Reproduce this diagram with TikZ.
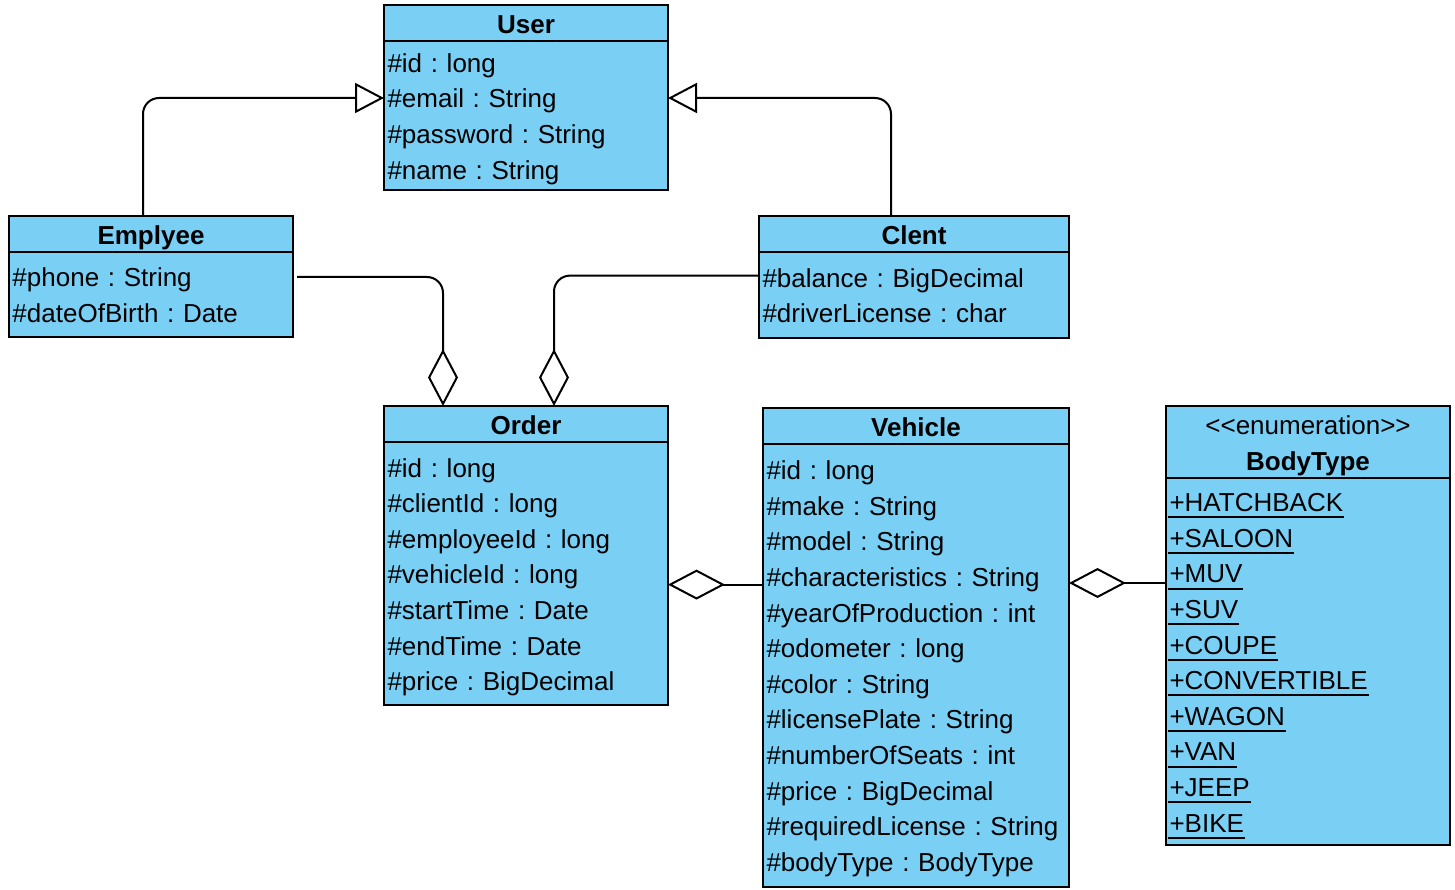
\documentclass[tikz,border=0pt]{standalone}
\usepackage{fontspec}
\setmainfont{Liberation Sans}
\usetikzlibrary{arrows.meta, positioning}

\definecolor{classblue}{RGB}{122,207,245}
\newcommand{\umlfont}{\fontsize{26pt}{35.6pt}\selectfont\frenchspacing}
\newcommand{\rowstrut}{\rule[-7.5pt]{0pt}{35.6pt}}
\newcommand{\enumlit}[1]{\leavevmode\setbox0\hbox{#1}\rlap{\kern-2pt\rule[-6.7pt]{\dimexpr\wd0+3pt\relax}{2pt}}\box0}

\begin{document}
\begin{tikzpicture}[x=1pt,y=-1pt,line width=2pt,
    cls/.style={draw, fill=classblue, outer sep=0pt, inner xsep=3.5pt, inner ysep=0pt,
      text width=#1, execute at begin node=\rowstrut, execute at end node=\rowstrut},
    head/.style={cls=#1, align=center, font=\umlfont\bfseries},
    attrs/.style={cls=#1, align=left, font=\umlfont},
    gen/.style={-{Triangle[open, length=29pt, width=30pt]}, rounded corners=16pt},
    agg/.style={-{Diamond[open, length=57pt, width=30pt]}, rounded corners=16pt}]
  \fill[white] (0,0) rectangle (1455,890);
  \useasboundingbox (0,0) rectangle (1455,890);

  \node[head=277pt, minimum height=36pt, anchor=north west] (user) at (384,5) {User};
  \node[attrs=277pt, minimum height=149pt, below=0pt of user] (userAttr)
    {\#id : long\\\#email : String\\\#password : String\\\#name : String};

  \node[head=277pt, minimum height=36pt, anchor=north west] (emp) at (9,216) {Emplyee};
  \node[attrs=277pt, minimum height=85pt, below=0pt of emp] (empAttr)
    {\#phone : String\\\#dateOfBirth : Date};

  \node[head=303pt, minimum height=35pt, anchor=north west] (clent) at (759,216) {Clent};
  \node[attrs=303pt, minimum height=86pt, below=0pt of clent] (clentAttr)
    {\#balance : BigDecimal\\\#driverLicense : char};

  \node[head=277pt, minimum height=36pt, anchor=north west] (order) at (384,406) {Order};
  \node[attrs=277pt, minimum height=263pt, below=0pt of order] (orderAttr)
    {\#id : long\\\#clientId : long\\\#employeeId : long\\\#vehicleId : long\\
     \#startTime : Date\\\#endTime : Date\\\#price : BigDecimal};

  \node[head=299pt, minimum height=35pt, anchor=north west] (vehicle) at (763,408) {Vehicle};
  \node[attrs=299pt, minimum height=443pt, below=0pt of vehicle] (vehicleAttr)
    {\#id : long\\\#make : String\\\#model : String\\\#characteristics : String\\
     \#yearOfProduction : int\\\#odometer : long\\\#color : String\\\#licensePlate : String\\
     \#numberOfSeats : int\\\#price : BigDecimal\\\#requiredLicense : String\\
     \#bodyType : BodyType};

  \node[head=277pt, minimum height=72pt, anchor=north west] (bodyType) at (1166,406)
    {{\mdseries <{}<enumeration>{}>}\\BodyType};
  \node[attrs=277pt, minimum height=367pt, below=0pt of bodyType] (bodyTypeAttr)
    {\enumlit{+HATCHBACK}\\\enumlit{+SALOON}\\\enumlit{+MUV}\\\enumlit{+SUV}\\
     \enumlit{+COUPE}\\\enumlit{+CONVERTIBLE}\\\enumlit{+WAGON}\\\enumlit{+VAN}\\
     \enumlit{+JEEP}\\\enumlit{+BIKE}};

  % generalisation
  \draw[gen] ([xshift=-8pt]emp.north) |- ([yshift=17.5pt]userAttr.west);
  \draw[gen] ([xshift=-23pt]clent.north) |- ([yshift=17.5pt]userAttr.east);

  % aggregation
  \draw[agg] ([xshift=4pt,yshift=17.5pt]empAttr.east) -| ([xshift=-83pt]order.north);
  \draw[agg] ([yshift=19pt]clentAttr.west) -| ([xshift=28pt]order.north);
  \draw[agg] ([yshift=80.5pt]vehicleAttr.west) -- ([yshift=80.5pt]vehicleAttr.west -| orderAttr.east);
  \draw[agg] ([yshift=78.5pt]bodyTypeAttr.west) -- ([yshift=78.5pt]bodyTypeAttr.west -| vehicleAttr.east);
\end{tikzpicture}
\end{document}
